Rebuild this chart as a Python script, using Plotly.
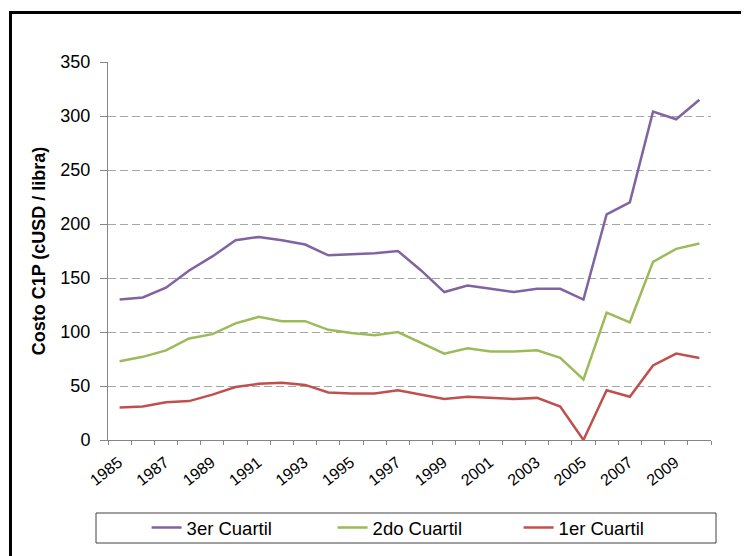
import plotly.graph_objects as go

years = list(range(1985, 2011))

q3 = [130, 132, 141, 157, 170, 185, 188, 185, 181, 171, 172, 173, 175, 157, 137,
      143, 140, 137, 140, 140, 130, 209, 220, 304, 297, 315]
q2 = [73, 77, 83, 94, 98, 108, 114, 110, 110, 102, 99, 97, 100, 90, 80,
      85, 82, 82, 83, 76, 56, 118, 109, 165, 177, 182]
q1 = [30, 31, 35, 36, 42, 49, 52, 53, 51, 44, 43, 43, 46, 42, 38,
      40, 39, 38, 39, 31, 0, 46, 40, 69, 80, 76]

series = [
    ("3er Cuartil", q3, "#8064A2"),
    ("2do Cuartil", q2, "#9BBB59"),
    ("1er Cuartil", q1, "#C0504D"),
]

font = "Liberation Sans, Arial, sans-serif"

fig = go.Figure()

for name, vals, color in series:
    fig.add_scatter(
        x=years,
        y=vals,
        name=name,
        mode="lines",
        line=dict(color=color, width=2.5),
    )

fig.update_layout(
    width=749,
    height=556,
    margin=dict(l=100, r=46, t=54, b=124, autoexpand=False),
    paper_bgcolor="white",
    plot_bgcolor="white",
    font=dict(family=font, color="black"),
    showlegend=True,
    legend=dict(
        orientation="h",
        x=0.064,
        xanchor="left",
        y=-0.1825,
        yanchor="top",
        font=dict(size=18.5, family=font),
        entrywidth=141,
        bgcolor="rgba(0,0,0,0)",
    ),
    shapes=[
        # outer frame
        dict(type="rect", xref="paper", yref="paper",
             x0=-0.1617, x1=1.09, y0=-0.35, y1=1.131,
             line=dict(color="black", width=3)),
        # legend box
        dict(type="rect", xref="paper", yref="paper",
             x0=(96 - 108) / 603, x1=(716 - 108) / 603,
             y0=(440 - 543) / 378, y1=(440 - 513) / 378,
             line=dict(color="#404040", width=1)),
    ],
)

fig.update_xaxes(
    range=[1984.5, 2010.5],
    tickvals=years[::2],
    ticktext=[str(y) for y in years[::2]],
    tickangle=-38,
    tickfont=dict(size=16),
    ticks="",
    ticklabelstandoff=6,
    ticklabelshift=-1,
    showgrid=False,
    zeroline=False,
    showline=True,
    linecolor="#868686",
    linewidth=1,
    minor=dict(ticks="outside", tick0=1984.5, dtick=1, ticklen=4,
               tickcolor="#868686", showgrid=False),
)

fig.update_yaxes(
    range=[0, 350],
    dtick=50,
    tickfont=dict(size=18),
    ticks="outside",
    ticklen=7,
    tickcolor="#868686",
    ticklabelstandoff=6,
    showline=True,
    linecolor="#868686",
    linewidth=1,
    zeroline=False,
    showgrid=True,
    gridcolor="#a6a6a6",
    griddash="8px,4px",
    title=dict(text="<b>Costo C1P (cUSD / libra)</b>",
               font=dict(size=18), standoff=10),
)

fig.write_html("out.html")
